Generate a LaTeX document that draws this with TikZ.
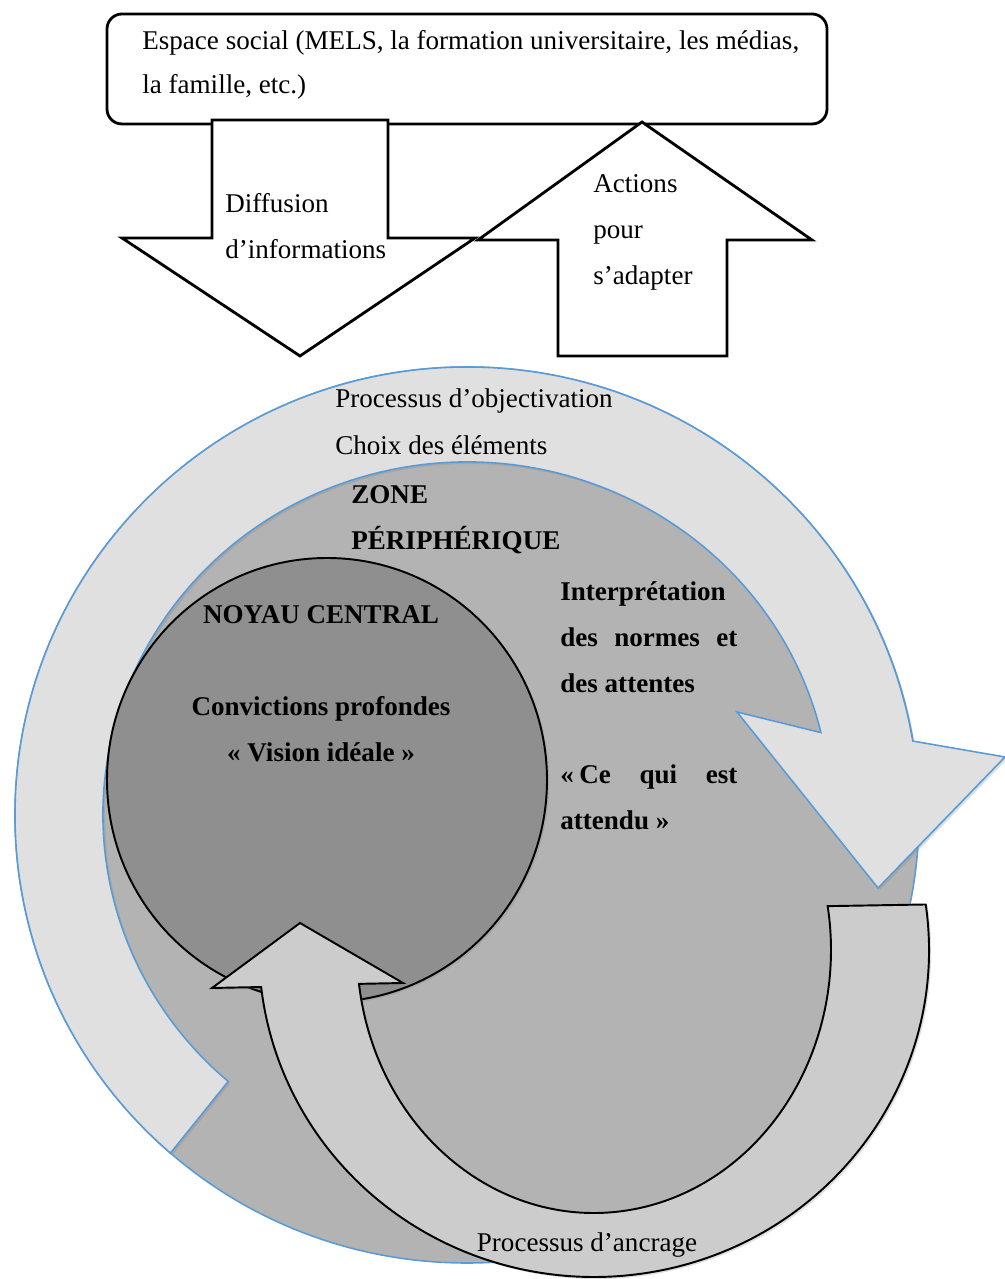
\documentclass[tikz,border=0pt]{standalone}
\usepackage{fontspec}
\setmainfont{Liberation Serif}
\usepackage{tikz}
\usetikzlibrary{calc,shadows}
\definecolor{ringgray}{HTML}{E0E0E0}
\definecolor{zonegray}{HTML}{B3B3B3}
\definecolor{coregray}{HTML}{8F8F8F}
\definecolor{anchorgray}{HTML}{CCCCCC}
\definecolor{lineblue}{HTML}{5B9BD5}
\tikzset{
  txt/.style={inner sep=0pt,anchor=base west,font=\fontsize{15.4}{26}\selectfont},
  btxt/.style={txt,font=\fontsize{15.4}{26}\selectfont\bfseries},
  bigarrow/.style={draw=black,fill=white,line width=1.6pt,line join=miter},
  socialbox/.style={draw=black,line width=1.6pt,rounded corners=3mm,
    minimum width=144mm,minimum height=22mm,inner sep=0pt},
  softshadow/.style={drop shadow={shadow xshift=1.2pt,shadow yshift=-1.2pt,opacity=0.25}},
}

\begin{document}
\begin{tikzpicture}[x=0.2mm,y=0.2mm]
  \useasboundingbox (0,0) rectangle (1005,1279);
  \coordinate (zc) at (467,464);   % centre de la zone
  \coordinate (uc) at (594,329);   % centre de l'ancrage

  % ESPACE SOCIAL
  \node[socialbox] (espace) at (467,1210) {};
  \node[txt] (espace-1) at (142,1229)
    {Espace social (MELS, la formation universitaire, les médias,};
  \node[txt] (espace-2) at (142,1185) {la famille, etc.)};

  % FLECHES DU HAUT
  \draw[bigarrow] (212,1159) -- (388,1159) -- (388,1041) -- (475,1041)
    -- (300,923) -- (122,1041) -- (212,1041) -- cycle;
  \draw[bigarrow] (642,1157) -- (812,1039) -- (727,1039) -- (727,923)
    -- (558,923) -- (558,1039) -- (478,1039) -- cycle;
  \node[txt] (diff-1) at (225,1066) {Diffusion};
  \node[txt] (diff-2) at (225,1020) {d'informations};
  \foreach \txt [count=\i] in {Actions,pour,s'adapter}
    \node[txt] (act-\i) at (593,1132-46*\i) {\txt};

  % ZONE ET OBJECTIVATION
  \fill[zonegray,draw=lineblue,line width=0.9pt] (zc) ellipse[x radius=452,y radius=448];
  \path[fill=ringgray,draw=lineblue,line width=0.9pt,line join=miter,softshadow]
    ($(zc)+(229:452 and 448)$) arc[start angle=229,end angle=9.5,x radius=452,y radius=448]
    -- (1005,522) -- (878,391) -- (737,567)
    -- ($(zc)+(13.5:364 and 353)$) arc[start angle=13.5,end angle=229,x radius=364,y radius=353]
    -- cycle;

  % NOYAU
  \fill[coregray,draw=black,line width=1.1pt,softshadow] (327,499) ellipse[x radius=220,y radius=222];

  % ANCRAGE
  \path[fill=anchorgray,draw=black,line width=1.1pt,line join=miter,softshadow]
    ($(uc)+(8:335 and 327)$) arc[start angle=8,end angle=-173.5,x radius=335,y radius=327]
    -- (212,291) -- (300,356) -- (403,296)
    -- ($(uc)+(-172.6:237 and 263)$) arc[start angle=-172.6,end angle=9.6,x radius=237,y radius=263]
    -- cycle;

  % TEXTES
  \node[txt] (obj-1) at (335,871) {Processus d'objectivation};
  \node[txt] (obj-2) at (335,824) {Choix des éléments};
  \node[btxt] (zone-1) at (351,775) {ZONE};
  \node[btxt] (zone-2) at (351,729) {PÉRIPHÉRIQUE};
  \node[btxt] (interp-1) at (560,678) {Interprétation};
  \node[btxt] (interp-2) at (560,632) {\makebox[35.4mm][s]{des normes et}};
  \node[btxt] (interp-3) at (560,586) {des attentes};
  \node[btxt] (attendu-1) at (560,495) {\makebox[35.4mm][s]{«\kern.2em Ce qui est}};
  \node[btxt] (attendu-2) at (560,449) {attendu »};
  \node[btxt,anchor=base] (noyau) at (321,655) {NOYAU CENTRAL};
  \node[btxt,anchor=base] (conv-1) at (321,563) {Convictions profondes};
  \node[btxt,anchor=base] (conv-2) at (321,517) {« Vision idéale »};
  \node[txt,anchor=base] (ancrage) at (587,27) {Processus d'ancrage};
\end{tikzpicture}
\end{document}
